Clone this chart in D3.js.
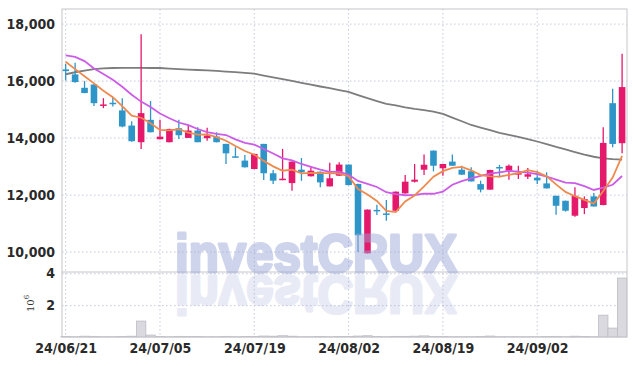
<!DOCTYPE html>
<html>
<head>
<meta charset="utf-8">
<script src="https://cdn.jsdelivr.net/npm/d3@7"></script>
<style>
  body { margin: 0; background: #fff; }
  .axis text { font-family: "Liberation Sans Narrow", "DejaVu Sans Condensed", sans-serif; font-size: 14px; font-weight: bold; fill: #2a2a2a; }
  .axis path { display: none; }
</style>
</head>
<body>
<div id="vis"></div>
<script>
// trading days (yy/mm/dd)
const DATES = ["24/06/21","24/06/24","24/06/25","24/06/26","24/06/27","24/06/28","24/07/01","24/07/02","24/07/03","24/07/04",
               "24/07/05","24/07/08","24/07/09","24/07/10","24/07/11","24/07/12","24/07/15","24/07/16","24/07/17","24/07/18",
               "24/07/19","24/07/22","24/07/23","24/07/24","24/07/25","24/07/26","24/07/29","24/07/30","24/07/31","24/08/01",
               "24/08/02","24/08/05","24/08/06","24/08/07","24/08/08","24/08/09","24/08/12","24/08/13","24/08/14","24/08/16",
               "24/08/19","24/08/20","24/08/21","24/08/22","24/08/23","24/08/26","24/08/27","24/08/28","24/08/29","24/08/30",
               "24/09/02","24/09/03","24/09/04","24/09/05","24/09/06","24/09/09","24/09/10","24/09/11","24/09/12","24/09/13"];

const OPEN  = [16410,16235,15765,15880,15150,15240,14970,14440,13855,14640, 13960,13855,14345,14005,14265,13995,14055,13795,13360,13210,
               12915,13795,12765,12530,12420,12890,12660,12820,12305,12680, 13070,12390,9955,11480,11355,11450,12060,12470,12890,13560,
               12940,13175,12890,12835,12385,12190,12985,12855,12755,12645, 12610,12410,11975,11800,11275,11545,11955,11650,15225,13820];
const HIGH  = [16610,16645,16000,15890,15400,15440,15400,14590,17640,15300, 14640,14330,14640,14465,14380,14360,14205,13800,13680,13410,
               13450,13800,12880,13620,13180,13300,13000,12830,13130,13150, 13075,12395,11495,11660,11825,12125,12700,13090,13420,13565,
               13095,13420,13030,12975,12505,12885,13060,13070,13030,12950, 12855,12800,11980,11805,12270,11955,12070,14380,15730,16960];
const LOW   = [16020,15940,15575,15130,15050,15110,14380,13870,13620,14200, 13950,13850,13970,14000,13850,13910,13850,13090,13320,12970,
               12910,12530,12385,12520,12150,12500,12650,12270,12300,12670, 12345,10000,9950,11300,11100,11440,12050,12440,12700,12830,
               12680,13025,12710,12475,12095,12185,12620,12540,12565,12565, 12390,12230,11310,11420,11240,11330,11595,11645,13680,13465];
const CLOSE = [16350,15965,15580,15225,15180,15220,14405,13890,14875,14205, 14050,14320,14100,14265,13855,14090,13855,13465,13345,12975,
               13445,12765,12505,12575,13175,12800,12855,12445,12590,13070, 12350,10590,11490,11465,11340,12120,12470,12540,13065,13030,
               13090,13030,12715,12480,12190,12880,12965,13030,12770,12730, 12515,12235,11625,11450,11975,11860,11600,13830,13795,15790];

// moving averages
const MA5   = [16680,16420,16170,15920,15660,15434,15122,14784,14714,14519, 14285,14268,14310,14188,14118,14126,14033,13906,13722,13546,
               13417,13199,13007,12853,12893,12764,12782,12770,12773,12752, 12662,12209,12018,11793,11447,11401,11777,11987,12307,12645,
               12839,12951,12986,12869,12701,12659,12646,12709,12767,12875, 12802,12656,12375,12111,11960,11829,11702,12143,12612,13375];
const MA10  = [16900,16850,16700,16440,16250,16050,15800,15520,15280,15090, 14860,14695,14547,14451,14319,14206,14151,14108,13955,13832,
               13772,13616,13457,13288,13220,13091,12991,12889,12813,12823, 12713,12496,12394,12283,12100,12032,11993,12003,12050,12046,
               12120,12364,12487,12588,12673,12749,12799,12848,12818,12788, 12731,12651,12542,12439,12418,12316,12179,12259,12362,12668];
const MA_LONG = [16240,16310,16370,16420,16445,16460,16465,16465,16465,16460, 16460,16440,16420,16405,16390,16375,16355,16335,16315,16290,
               16260,16195,16130,16070,16005,15940,15875,15810,15750,15685, 15620,15510,15400,15300,15200,15145,15080,15025,14980,14930,
               14850,14720,14590,14460,14370,14280,14180,14110,14040,13960, 13880,13790,13690,13600,13510,13420,13345,13290,13260,13245];

// volume in millions of shares
const VOLUME = [0.03,0.02,0.05,0.04,0.02,0.02,0.03,0.05,1.0,0.12, 0.03,0.02,0.04,0.03,0.03,0.02,0.02,0.04,0.02,0.03,
                0.03,0.06,0.05,0.08,0.05,0.02,0.02,0.03,0.02,0.03, 0.03,0.06,0.08,0.03,0.02,0.04,0.04,0.05,0.07,0.04,
                0.03,0.02,0.02,0.02,0.03,0.06,0.02,0.02,0.02,0.02, 0.02,0.03,0.04,0.02,0.05,0.03,0.02,1.37,0.56,3.7];

const PRICE_TICKS = [10000, 12000, 14000, 16000, 18000];
const VOLUME_TICKS = [2, 4];
const DATE_TICKS = ["24/06/21", "24/07/05", "24/07/19", "24/08/02", "24/08/19", "24/09/02"];

//Declare constants for frame
const FRAME_WIDTH = 635;
const FRAME_HEIGHT = 366;
const PLOT = {left: 62, right: 627, top: 9, split: 272, bottom: 337};

const UP_COLOR = "#e5196b";
const DOWN_COLOR = "#2e95c9";
const GRID_COLOR = "#c5c9dc";
const BORDER_COLOR = "#c6c6cc";

const FRAME = d3.select("#vis")
                .append("svg")
                  .attr("width", FRAME_WIDTH)
                  .attr("height", FRAME_HEIGHT);

// scales: index -> x, price -> y (top panel), volume -> y (bottom panel)
const X_SCALE = d3.scaleLinear()
                  .domain([-0.39, DATES.length - 0.48])
                  .range([PLOT.left, PLOT.right]);
const STEP = X_SCALE(1) - X_SCALE(0);

const Y_PRICE = d3.scaleLinear()
                  .domain([9300, 18530])
                  .range([PLOT.split, PLOT.top]);

const Y_VOL = d3.scaleLinear()
                .domain([0, 4.08])
                .range([PLOT.bottom, PLOT.split]);

const DATE_IDX = DATE_TICKS.map((d) => DATES.indexOf(d));

// grid lines
const GRID = FRAME.append("g")
                  .attr("stroke", GRID_COLOR)
                  .attr("stroke-width", 1)
                  .attr("stroke-dasharray", "1.5,2.5");

GRID.selectAll(".vgrid")
    .data(DATE_IDX)
    .enter()
    .append("line")
      .attr("x1", (d) => X_SCALE(d))
      .attr("x2", (d) => X_SCALE(d))
      .attr("y1", PLOT.top)
      .attr("y2", PLOT.bottom);

GRID.selectAll(".pgrid")
    .data(PRICE_TICKS)
    .enter()
    .append("line")
      .attr("x1", PLOT.left)
      .attr("x2", PLOT.right)
      .attr("y1", (d) => Y_PRICE(d))
      .attr("y2", (d) => Y_PRICE(d));

GRID.selectAll(".vol-grid")
    .data(VOLUME_TICKS)
    .enter()
    .append("line")
      .attr("x1", PLOT.left)
      .attr("x2", PLOT.right)
      .attr("y1", (d) => Y_VOL(d) + 0.5)
      .attr("y2", (d) => Y_VOL(d) + 0.5);

// volume bars
FRAME.selectAll(".vol")
     .data(VOLUME)
     .enter()
     .append("rect")
       .attr("x", (d, i) => X_SCALE(i) - STEP / 2)
       .attr("y", (d) => Y_VOL(d))
       .attr("width", STEP)
       .attr("height", (d) => PLOT.bottom - Y_VOL(d))
       .attr("fill", "#d9d9df")
       .attr("stroke", "#bdbdc6")
       .attr("stroke-width", 0.8);

// long moving average sits behind the candles
const LINE = d3.line()
               .x((d, i) => X_SCALE(i))
               .y((d) => Y_PRICE(d));

FRAME.append("path")
     .attr("d", LINE(MA_LONG))
     .attr("fill", "none")
     .attr("stroke", "#7d7d7d")
     .attr("stroke-width", 1.8);

// candles
const CANDLES = FRAME.selectAll(".candle")
                     .data(DATES)
                     .enter()
                     .append("g")
                       .attr("fill", (d, i) => CLOSE[i] >= OPEN[i] ? UP_COLOR : DOWN_COLOR)
                       .attr("stroke", (d, i) => CLOSE[i] >= OPEN[i] ? UP_COLOR : DOWN_COLOR);

CANDLES.append("line")
       .attr("x1", (d, i) => X_SCALE(i))
       .attr("x2", (d, i) => X_SCALE(i))
       .attr("y1", (d, i) => Y_PRICE(HIGH[i]))
       .attr("y2", (d, i) => Y_PRICE(LOW[i]))
       .attr("stroke-width", 1.3);

CANDLES.append("rect")
       .attr("x", (d, i) => X_SCALE(i) - STEP * 0.35)
       .attr("y", (d, i) => Y_PRICE(Math.max(OPEN[i], CLOSE[i])))
       .attr("width", STEP * 0.7)
       .attr("height", (d, i) => Math.max(1.5, Math.abs(Y_PRICE(OPEN[i]) - Y_PRICE(CLOSE[i]))))
       .attr("stroke", "none");

// short moving averages on top
FRAME.append("path")
     .attr("d", LINE(MA10))
     .attr("fill", "none")
     .attr("stroke", "#cc5ce8")
     .attr("stroke-width", 1.8);

FRAME.append("path")
     .attr("d", LINE(MA5))
     .attr("fill", "none")
     .attr("stroke", "#ef8a4e")
     .attr("stroke-width", 1.8);

// frame borders
FRAME.append("rect")
     .attr("x", PLOT.left)
     .attr("y", PLOT.top)
     .attr("width", PLOT.right - PLOT.left)
     .attr("height", PLOT.bottom - PLOT.top)
     .attr("fill", "none")
     .attr("stroke", BORDER_COLOR);

FRAME.append("line")
     .attr("x1", PLOT.left)
     .attr("x2", PLOT.right)
     .attr("y1", PLOT.split)
     .attr("y2", PLOT.split)
     .attr("stroke", BORDER_COLOR);

// axes (labels only)
FRAME.append("g")
     .attr("class", "axis")
     .attr("transform", "translate(" + PLOT.left + ",0)")
     .call(d3.axisLeft(Y_PRICE).tickValues(PRICE_TICKS).tickSize(0).tickPadding(7).tickFormat(d3.format(",")));

FRAME.append("g")
     .attr("class", "axis")
     .attr("transform", "translate(" + PLOT.left + ",0)")
     .call(d3.axisLeft(Y_VOL).tickValues(VOLUME_TICKS).tickSize(0).tickPadding(7).tickFormat(d3.format("d")));

FRAME.append("g")
     .attr("class", "axis")
     .attr("transform", "translate(0," + PLOT.bottom + ")")
     .call(d3.axisBottom(X_SCALE).tickValues(DATE_IDX).tickSize(0).tickPadding(6).tickFormat((i) => DATES[i]));

// volume unit label
const UNIT = FRAME.append("text")
                  .attr("transform", "translate(34,312) rotate(-90)")
                  .attr("font-family", "DejaVu Serif, serif")
                  .attr("font-size", 10)
                  .attr("fill", "#333");
UNIT.append("tspan").text("10");
UNIT.append("tspan").attr("dy", -5).attr("font-size", 7).text("6");

// watermark with its reflection
const MARK = FRAME.append("g")
                  .attr("font-family", "Liberation Sans, Arial, sans-serif")
                  .attr("font-weight", "bold")
                  .attr("font-size", 54);

MARK.append("text")
    .attr("x", 175)
    .attr("y", 272)
    .attr("textLength", 282)
    .attr("lengthAdjust", "spacingAndGlyphs")
    .attr("fill", "#9aa6d6")
    .attr("stroke", "#9aa6d6")
    .attr("stroke-width", 3)
    .attr("stroke-linejoin", "round")
    .attr("opacity", 0.48)
    .text("investCRUX");

MARK.append("text")
    .attr("x", 175)
    .attr("y", -276)
    .attr("transform", "scale(1,-1)")
    .attr("textLength", 282)
    .attr("lengthAdjust", "spacingAndGlyphs")
    .attr("fill", "#9aa6d6")
    .attr("stroke", "#9aa6d6")
    .attr("stroke-width", 3)
    .attr("stroke-linejoin", "round")
    .attr("opacity", 0.22)
    .text("investCRUX");
</script>
</body>
</html>
